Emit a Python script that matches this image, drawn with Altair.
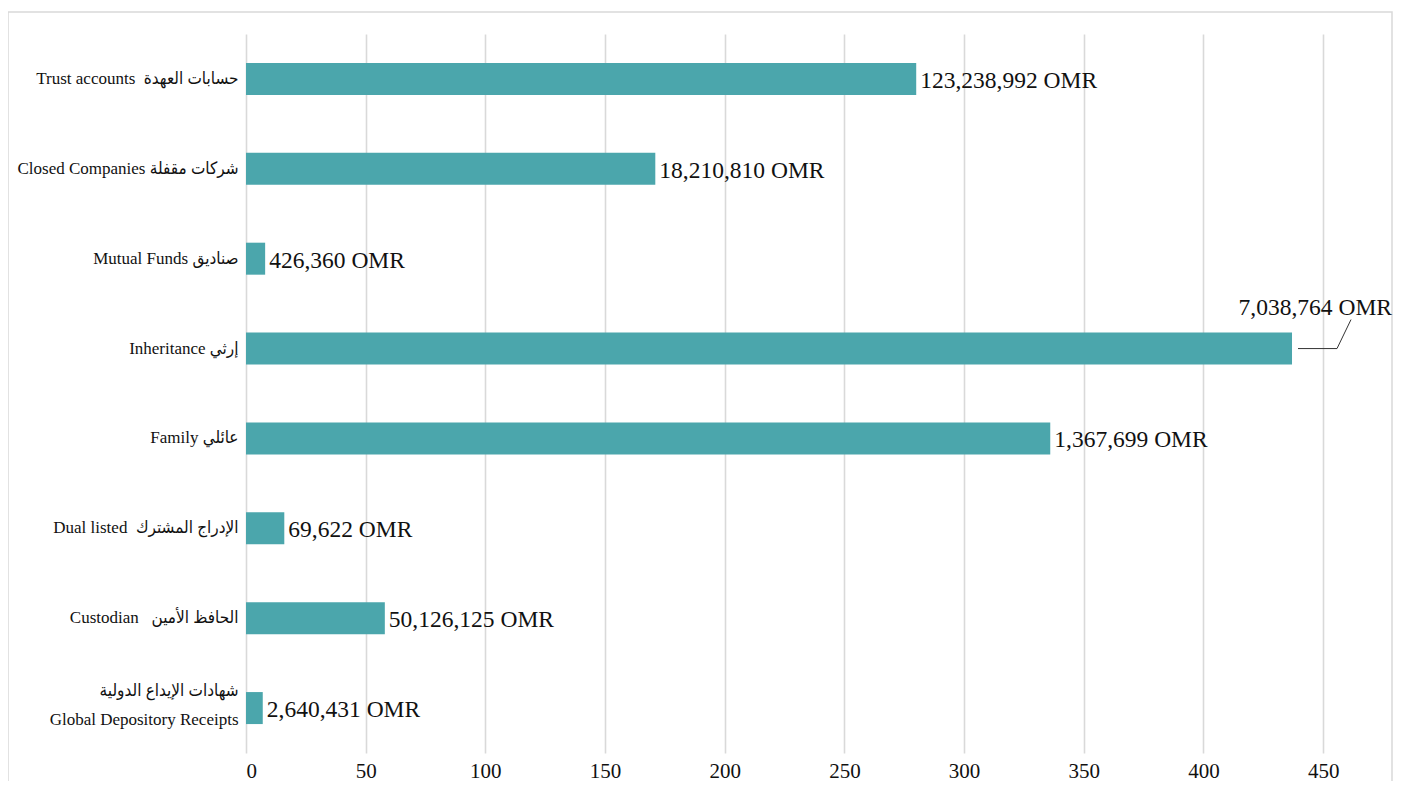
import altair as alt
import pandas as pd

NB = "\u00a0"
categories = [
    "Trust accounts" + NB + NB + "حسابات العهدة",
    "Closed Companies شركات مقفلة",
    "Mutual Funds صناديق",
    "Inheritance إرثي",
    "Family عائلي",
    "Dual listed" + NB + NB + "الإدراج المشترك",
    "Custodian" + NB + NB + NB + "الحافظ الأمين",
    "شهادات الإيداع الدولية\nGlobal Depository Receipts",
]
counts = [280, 171, 8, 437, 336, 16, 58, 7]
value_labels = [
    "123,238,992 OMR",
    "18,210,810 OMR",
    "426,360 OMR",
    "7,038,764 OMR",
    "1,367,699 OMR",
    "69,622 OMR",
    "50,126,125 OMR",
    "2,640,431 OMR",
]
callout_category = "Inheritance إرثي"
x_ticks = [0, 50, 100, 150, 200, 250, 300, 350, 400, 450]

df = pd.DataFrame({"category": categories, "count": counts, "label": value_labels})

FONT = "Liberation Serif"
CAT_FONT = "Liberation Serif, DejaVu Sans Condensed, DejaVu Sans"
BAR = "#4ba6ac"
GRID = "#d9d9d9"

W, H = 1125, 719

x_scale = alt.Scale(domain=[0, 470], nice=False, zero=True)
y_scale = alt.Scale(paddingInner=0.644, paddingOuter=0.322)

base = alt.Chart(df)

y_enc = alt.Y(
    "category:N",
    sort=categories,
    scale=y_scale,
    title=None,
    axis=alt.Axis(
        labelExpr="split(datum.label, '\\n')",
        labelFont=CAT_FONT,
        labelFontSize=17,
        labelColor="#111111",
        labelPadding=8,
        labelLimit=400,
        labelLineHeight=29,
        labelOffset={
            "condition": {"test": "indexof(datum.label, 'Global') >= 0", "value": -17},
            "value": 0,
        },
        ticks=False,
        domain=False,
        grid=False,
    ),
)

bars = base.mark_bar(color=BAR).encode(
    x=alt.X(
        "count:Q",
        scale=x_scale,
        title=None,
        axis=alt.Axis(
            values=x_ticks,
            labelFont=FONT,
            labelFontSize=21,
            labelColor="#111111",
            labelPadding=7,
            ticks=False,
            domain=False,
            grid=True,
            gridColor=GRID,
            gridWidth=1.6,
        ),
    ),
    y=y_enc,
)

text_normal = base.transform_filter(
    alt.datum.category != callout_category
).mark_text(
    align="left", baseline="middle", dx=4, dy=2, font=FONT, fontSize=23.5, color="#111111"
).encode(
    x=alt.X("count:Q", scale=x_scale),
    y=alt.Y("category:N", sort=categories, scale=y_scale),
    text="label:N",
)

text_callout = base.transform_filter(
    alt.datum.category == callout_category
).mark_text(
    align="right", baseline="middle", dx=100, dy=-41, font=FONT, fontSize=23.5, color="#111111"
).encode(
    x=alt.X("count:Q", scale=x_scale),
    y=alt.Y("category:N", sort=categories, scale=y_scale),
    text="label:N",
)

leader_h = base.transform_filter(
    alt.datum.category == callout_category
).mark_rule(color="#333333", strokeWidth=1, xOffset=6, x2Offset=45).encode(
    x=alt.X("count:Q", scale=x_scale),
    x2="count:Q",
    y=alt.Y("category:N", sort=categories, scale=y_scale),
)

leader_d = base.transform_filter(
    alt.datum.category == callout_category
).mark_rule(color="#333333", strokeWidth=1, xOffset=45, x2Offset=59, y2Offset=-29).encode(
    x=alt.X("count:Q", scale=x_scale),
    x2="count:Q",
    y=alt.Y("category:N", sort=categories, scale=y_scale),
    y2="category:N",
)

border = alt.Chart(pd.DataFrame({"b": [0]})).mark_rect(
    fill=None, stroke=GRID, strokeWidth=1.5
).encode(
    x=alt.value(-238), x2=alt.value(1146), y=alt.value(-22), y2=alt.value(790)
)

chart = alt.layer(border, bars, text_normal, text_callout, leader_h, leader_d).properties(
    width=W,
    height=H,
    padding={"left": 238, "top": 26, "right": 23, "bottom": 28},
    autosize=alt.AutoSizeParams(type="none"),
    background="white",
).configure_view(strokeWidth=0, stroke=None)

chart.save("out.html", embed_options={"renderer": "svg", "actions": False})
